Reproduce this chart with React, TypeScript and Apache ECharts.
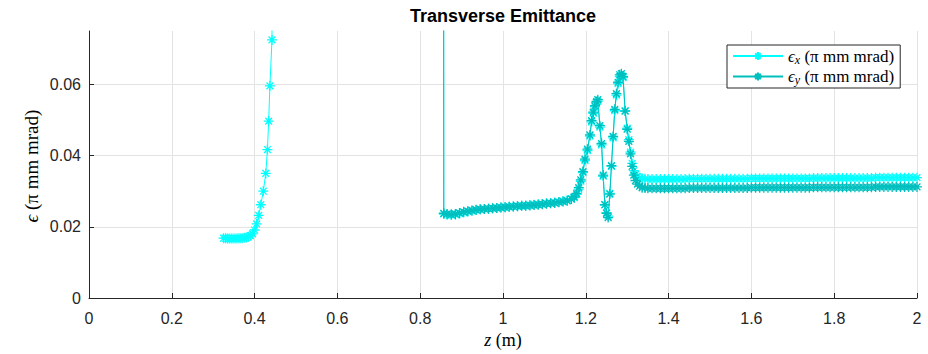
import React, { useEffect, useRef } from "react";
import * as echarts from "echarts";

// Axis ticks
const xTickValues = [0, 0.2, 0.4, 0.6, 0.8, 1, 1.2, 1.4, 1.6, 1.8, 2];
const yTickValues = [0, 0.02, 0.04, 0.06];

// epsilon_x before the blow-up (z in m, emittance in pi mm mrad)
const zLeft = [
  0.325, 0.33, 0.335, 0.34, 0.345, 0.35, 0.355, 0.36, 0.365, 0.37, 0.375, 0.38, 0.385,
  0.39, 0.395, 0.4, 0.405, 0.41, 0.415, 0.421, 0.427, 0.431, 0.434, 0.437, 0.442,
];
const exLeft = [
  0.0168, 0.0168, 0.0167, 0.0167, 0.0167, 0.0167, 0.0167, 0.0168, 0.0168, 0.0168, 0.0169,
  0.017, 0.0172, 0.0175, 0.018, 0.0191, 0.0208, 0.0232, 0.0262, 0.03, 0.035, 0.0417,
  0.0497, 0.0596, 0.0725,
];

// Values far above the plotted range between the two sections
const exGapZ = [0.447, 0.853];
const exGap = [0.9, 0.9];
const eyGapZ = [0.853];
const eyGap = [0.9];

// Slow growth after the gap
const zFlat = [
  0.857, 0.865, 0.875, 0.885, 0.895, 0.905, 0.915, 0.925, 0.935, 0.945, 0.955, 0.965,
  0.975, 0.985, 0.995, 1.005, 1.015, 1.025, 1.035, 1.045, 1.055, 1.065, 1.075, 1.085,
  1.095, 1.105, 1.115, 1.125, 1.135, 1.145, 1.155, 1.165,
];
const exFlat = [
  0.0236, 0.0234, 0.0233, 0.0234, 0.0237, 0.024, 0.0243, 0.0245, 0.0247, 0.0249, 0.025,
  0.0251, 0.0252, 0.0253, 0.0254, 0.0255, 0.0256, 0.0257, 0.0258, 0.0259, 0.026, 0.0261,
  0.0262, 0.0263, 0.0264, 0.0266, 0.0267, 0.0268, 0.027, 0.0272, 0.0274, 0.0279,
];
const eyFlat = [
  0.0238, 0.0236, 0.0235, 0.0236, 0.0239, 0.0242, 0.0244, 0.0246, 0.0248, 0.0249, 0.025,
  0.0251, 0.0252, 0.0253, 0.0254, 0.0255, 0.0256, 0.0257, 0.0258, 0.0259, 0.0259, 0.026,
  0.0261, 0.0262, 0.0263, 0.0265, 0.0266, 0.0267, 0.0269, 0.0271, 0.0273, 0.0278,
];

// Double peak
const zPeak = [
  1.172, 1.178, 1.183, 1.188, 1.193, 1.198, 1.204, 1.21, 1.214, 1.218, 1.222, 1.226,
  1.229, 1.234, 1.238, 1.242, 1.246, 1.25, 1.254, 1.258, 1.262, 1.266, 1.27, 1.274,
  1.278, 1.282, 1.286, 1.29, 1.295, 1.3, 1.304, 1.308, 1.312, 1.316, 1.32, 1.325, 1.33,
  1.336, 1.343,
];
const exPeak = [
  0.0282, 0.0291, 0.0306, 0.0328, 0.0352, 0.0386, 0.0414, 0.0455, 0.0495, 0.0519,
  0.0537, 0.0549, 0.0553, 0.048, 0.043, 0.0342, 0.0262, 0.024, 0.023, 0.0294, 0.037,
  0.045, 0.0526, 0.057, 0.0602, 0.0622, 0.0625, 0.0619, 0.0526, 0.0477, 0.0445, 0.041,
  0.0378, 0.0358, 0.0347, 0.0341, 0.0338, 0.0336, 0.0335,
];
const eyPeak = [
  0.0284, 0.0294, 0.031, 0.0332, 0.0355, 0.039, 0.0418, 0.0458, 0.0498, 0.0522, 0.054,
  0.0552, 0.0557, 0.0484, 0.0434, 0.0345, 0.0262, 0.0238, 0.0226, 0.0292, 0.0372, 0.0454,
  0.053, 0.0574, 0.0606, 0.0627, 0.063, 0.0622, 0.0525, 0.0474, 0.044, 0.0405, 0.037,
  0.0345, 0.033, 0.032, 0.0314, 0.031, 0.0309,
];

// Plateau to the end of the line
const zTail = [
  1.35, 1.36, 1.37, 1.38, 1.39, 1.4, 1.41, 1.42, 1.43, 1.44,
  1.45, 1.46, 1.47, 1.48, 1.49, 1.5, 1.51, 1.52, 1.53, 1.54, 1.55, 1.56, 1.57, 1.58, 1.59,
  1.6, 1.61, 1.62, 1.63, 1.64, 1.65, 1.66, 1.67, 1.68, 1.69, 1.7, 1.71, 1.72, 1.73, 1.74,
  1.75, 1.76, 1.77, 1.78, 1.79, 1.8, 1.81, 1.82, 1.83, 1.84, 1.85, 1.86, 1.87, 1.88, 1.89,
  1.9, 1.91, 1.92, 1.93, 1.94, 1.95, 1.96, 1.97, 1.98, 1.99, 2.0,
];
const exTail = [
  0.0334, 0.0334, 0.0334, 0.0334, 0.0334, 0.0334, 0.0334, 0.0334, 0.0334, 0.0334,
  0.0335, 0.0335, 0.0335, 0.0335, 0.0335, 0.0335, 0.0335, 0.0335, 0.0335, 0.0335, 0.0335, 0.0335, 0.0335, 0.0335, 0.0335,
  0.0336, 0.0336, 0.0336, 0.0336, 0.0336, 0.0336, 0.0336, 0.0336, 0.0336, 0.0336, 0.0336, 0.0336, 0.0336, 0.0336, 0.0336,
  0.0337, 0.0337, 0.0337, 0.0337, 0.0337, 0.0337, 0.0337, 0.0337, 0.0337, 0.0337, 0.0337, 0.0337, 0.0337, 0.0337, 0.0337,
  0.0338, 0.0338, 0.0338, 0.0338, 0.0338, 0.0338, 0.0338, 0.0338, 0.0338, 0.0338, 0.0338,
];
const eyTail = [
  0.0308, 0.0308, 0.0308, 0.0308, 0.0308, 0.0308, 0.0308, 0.0308, 0.0308, 0.0308,
  0.0309, 0.0309, 0.0309, 0.0309, 0.0309, 0.0309, 0.0309, 0.0309, 0.0309, 0.0309, 0.0309, 0.0309, 0.0309, 0.0309, 0.0309,
  0.031, 0.031, 0.031, 0.031, 0.031, 0.031, 0.031, 0.031, 0.031, 0.031, 0.031, 0.031, 0.031, 0.031, 0.031,
  0.0311, 0.0311, 0.0311, 0.0311, 0.0311, 0.0311, 0.0311, 0.0311, 0.0311, 0.0311, 0.0311, 0.0311, 0.0311, 0.0311, 0.0311,
  0.0312, 0.0312, 0.0312, 0.0312, 0.0312, 0.0312, 0.0312, 0.0312, 0.0312, 0.0312, 0.0312,
];

const pairs = (zs: number[], vs: number[]) => zs.map((z, i) => [z, vs[i]]);

const exData = [
  ...pairs(zLeft, exLeft),
  ...pairs(exGapZ, exGap),
  ...pairs(zFlat, exFlat),
  ...pairs(zPeak, exPeak),
  ...pairs(zTail, exTail),
];
const eyData = [
  ...pairs(eyGapZ, eyGap),
  ...pairs(zFlat, eyFlat),
  ...pairs(zPeak, eyPeak),
  ...pairs(zTail, eyTail),
];

const SANS = "'Liberation Sans', Arial, Helvetica, sans-serif";
const SERIF = "'Liberation Serif', 'DejaVu Serif', 'Times New Roman', serif";
const AXIS_COLOR = "#262626";
const GRID_COLOR = "#e3e3e3";
const CYAN = "#00ffff";
const TEAL = "#00bfbf";
const ASTERISK = "path://M5,0L5,10M0,5L10,5M1.6,1.6L8.4,8.4M1.6,8.4L8.4,1.6";

const legendText: Record<string, string> = {
  ex: "{e|ϵ}{s|x} (π mm mrad)",
  ey: "{e|ϵ}{s|y} (π mm mrad)",
};

const mathRich = {
  e: { fontFamily: SERIF, fontSize: 17, fontStyle: "italic" as const, color: "#000" },
  s: { fontFamily: SERIF, fontSize: 12, fontStyle: "italic" as const, color: "#000", padding: [7, 0, 0, 0] },
};

const lineSeries = (name: string, data: number[][], color: string) => ({
  name,
  type: "line" as const,
  data,
  clip: true,
  showSymbol: true,
  showAllSymbol: true,
  symbol: ASTERISK,
  symbolSize: 10,
  lineStyle: { color, width: 1 },
  itemStyle: { color, borderColor: color, borderWidth: 1.3 },
  emphasis: { disabled: true },
  silent: true,
});

export default function App() {
  const ref = useRef<HTMLDivElement>(null);

  useEffect(() => {
    if (!ref.current) return;
    document.body.style.margin = "0";
    const chart = echarts.init(ref.current, null, { renderer: "svg" });
    chart.setOption({
      animation: false,
      backgroundColor: "#ffffff",
      grid: { left: 89, right: 11, top: 31, bottom: 56 },
      xAxis: {
        type: "value",
        min: 0,
        max: 2,
        interval: 0.2,
        axisLine: { show: true, onZero: false, lineStyle: { color: AXIS_COLOR, width: 1 } },
        axisTick: { show: true, inside: true, length: 5, lineStyle: { color: AXIS_COLOR } },
        axisLabel: {
          margin: 12,
          fontFamily: SANS,
          fontSize: 16,
          color: AXIS_COLOR,
          customValues: xTickValues,
        },
        splitLine: { show: true, lineStyle: { color: GRID_COLOR, width: 1 } },
      },
      yAxis: {
        type: "value",
        min: 0,
        max: 0.075,
        interval: 0.02,
        axisLine: { show: true, onZero: false, lineStyle: { color: AXIS_COLOR, width: 1 } },
        axisTick: {
          show: true,
          inside: true,
          length: 5,
          lineStyle: { color: AXIS_COLOR },
          customValues: yTickValues,
        },
        axisLabel: {
          margin: 8,
          fontFamily: SANS,
          fontSize: 16,
          color: AXIS_COLOR,
          customValues: yTickValues,
        },
        splitLine: { show: true, lineStyle: { color: GRID_COLOR, width: 1 } },
      },
      legend: {
        left: 727,
        top: 45,
        orient: "vertical",
        data: ["ex", "ey"],
        padding: [2, 6, 2, 5],
        itemGap: 2,
        itemWidth: 50,
        itemHeight: 10,
        backgroundColor: "#ffffff",
        borderColor: AXIS_COLOR,
        borderWidth: 1,
        borderRadius: 0,
        selectedMode: false,
        formatter: (name: string) => legendText[name],
        textStyle: {
          fontFamily: SERIF,
          fontSize: 17,
          color: "#000",
          lineHeight: 18,
          rich: mathRich,
        },
      },
      graphic: [
        {
          type: "text",
          x: 503,
          y: 16,
          silent: true,
          style: {
            text: "Transverse Emittance",
            fontFamily: SANS,
            fontSize: 18,
            fontWeight: "bold",
            fill: "#000",
            align: "center",
            verticalAlign: "middle",
          },
        },
        {
          type: "text",
          x: 503,
          y: 340,
          silent: true,
          style: {
            text: "{i|z} (m)",
            fontFamily: SERIF,
            fontSize: 18,
            fill: "#000",
            align: "center",
            verticalAlign: "middle",
            rich: { i: { fontFamily: SERIF, fontSize: 18, fontStyle: "italic", fill: "#000" } },
          },
        },
        {
          type: "text",
          x: 31,
          y: 166,
          rotation: Math.PI / 2,
          silent: true,
          style: {
            text: "{e|ϵ} (π mm mrad)",
            fontFamily: SERIF,
            fontSize: 19,
            fill: "#000",
            align: "center",
            verticalAlign: "middle",
            rich: { e: { fontFamily: SERIF, fontSize: 19, fontStyle: "italic", fill: "#000" } },
          },
        },
      ],
      series: [lineSeries("ex", exData, CYAN), lineSeries("ey", eyData, TEAL)],
    });
    return () => chart.dispose();
  }, []);

  return (
    <div
      ref={ref}
      style={{ position: "fixed", left: 0, top: 0, width: 928, height: 354 }}
    />
  );
}
